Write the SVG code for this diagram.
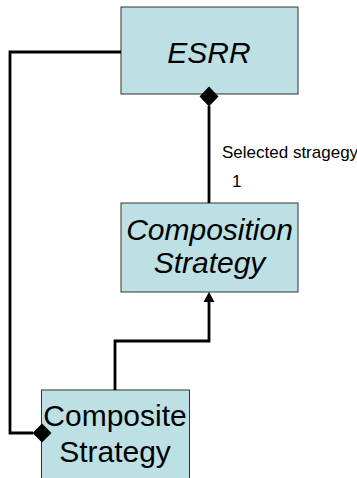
<svg xmlns="http://www.w3.org/2000/svg" width="357" height="478" viewBox="0 0 357 478">
<style>
.box{fill:#bce0e4;stroke:#333;stroke-width:1}
.t{font-family:"Liberation Sans",Arial,sans-serif;font-size:30px;fill:#000;text-anchor:middle}
.i{font-style:italic}
.c{fill:none;stroke:#000;stroke-width:2.8}
.lbl{font-family:"Liberation Sans",Arial,sans-serif;font-size:17px;fill:#000}
</style>
<rect width="357" height="478" fill="#fff"/>
<g id="esrr">
<rect class="box" x="121" y="7" width="177" height="87"/>
<text class="t i" x="209" y="63">ESRR</text>
</g>
<g id="composition-strategy">
<rect class="box" x="121" y="203" width="177" height="89"/>
<text class="t i" x="209.5" y="240">Composition</text>
<text class="t i" x="209.5" y="273">Strategy</text>
</g>
<g id="composite-strategy">
<rect class="box" x="41.5" y="390" width="148" height="100"/>
<text class="t" x="115" y="426">Composite</text>
<text class="t" x="115" y="462">Strategy</text>
</g>
<g id="connectors">
<path class="c" d="M209 106 V203"/>
<path d="M209 86.5 L218.5 96.5 L209 106.5 L199.5 96.5 Z" fill="#000"/>
<path class="c" d="M115 390 V341 H209 V300"/>
<path d="M209 292 L214.5 302 L203.5 302 Z" fill="#000"/>
<path class="c" d="M121 52 H10 V433 H33"/>
<path d="M42 423.5 L51.5 433 L42 442.5 L32.5 433 Z" fill="#000"/>
<text class="lbl" x="222" y="158">Selected stragegy</text>
<text class="lbl" x="232" y="187">1</text>
</g>
</svg>
